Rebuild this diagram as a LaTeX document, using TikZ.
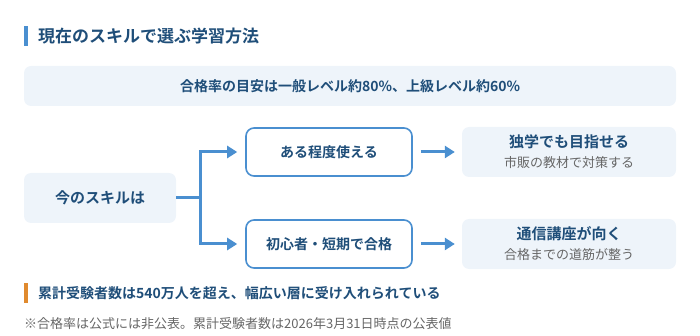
\documentclass[tikz,border=0pt]{standalone}
\usepackage{fontspec}
\setmainfont{Noto Sans CJK JP}[BoldFont={Noto Sans CJK JP Bold}]
\usetikzlibrary{arrows.meta}
\definecolor{dkblue}{HTML}{1F4E79}
\definecolor{lnblue}{HTML}{4A8FD0}
\definecolor{lightfill}{HTML}{EEF4FA}
\definecolor{orangebar}{HTML}{E08A2E}
\definecolor{graytext}{HTML}{666666}
\tikzset{
  softbox/.style={fill=lightfill, draw=none, rounded corners=7pt, inner sep=0pt},
  outlinebox/.style={fill=white, draw=lnblue, line width=1.6pt, rounded corners=8pt, inner sep=0pt,
     minimum width=166pt, minimum height=48pt, font=\fontsize{14}{16}\selectfont\bfseries, text=dkblue},
  conn/.style={draw=lnblue, line width=3pt},
  arr/.style={draw=lnblue, line width=3pt, -{Triangle[length=10pt,width=12pt]}},
  headtxt/.style={font=\fontsize{15}{17}\selectfont\bfseries, text=dkblue, inner sep=0pt},
  subtxt/.style={font=\fontsize{13}{15}\selectfont, text=graytext, inner sep=0pt},
}
\begin{document}
\begin{tikzpicture}[x=1pt,y=-1pt]
\useasboundingbox (0,0) rectangle (700,336);
% title
\fill[lnblue] (24,26) rectangle (27.5,46);
\node[anchor=west, inner sep=0pt, font=\fontsize{17}{19}\selectfont\bfseries, text=dkblue] (title) at (38,36) {現在のスキルで選ぶ学習方法};
% top box
\node[softbox, minimum width=652pt, minimum height=40pt, font=\fontsize{14}{16}\selectfont\bfseries, text=dkblue] (top) at (350,86) {合格率の目安は一般レベル約80\%、上級レベル約60\%};
% left box
\node[softbox, minimum width=152pt, minimum height=50pt, font=\fontsize{15}{17}\selectfont\bfseries, text=dkblue] (skill) at (100,198) {今のスキルは};
% middle boxes
\node[outlinebox] (m1) at (329,152) {ある程度使える};
\node[outlinebox] (m2) at (329,244) {初心者・短期で合格};
% right boxes
\node[softbox, minimum width=214pt, minimum height=50pt] (r1) at (569,152) {};
\node[softbox, minimum width=214pt, minimum height=50pt] (r2) at (569,244) {};
\node[headtxt] (r1h) at (569,142) {独学でも目指せる};
\node[subtxt] (r1s) at (569,163) {市販の教材で対策する};
\node[headtxt] (r2h) at (569,234) {通信講座が向く};
\node[subtxt] (r2s) at (569,255) {合格までの道筋が整う};
% connectors
\coordinate (j) at (200,198);
\draw[conn] (skill.east) -- (j);
\draw[arr, shorten >=8pt] (j) |- (m1.west);
\draw[arr, shorten >=8pt] (j) |- (m2.west);
\draw[arr, shorten <=8pt, shorten >=7pt] (m1.east) -- (r1.west);
\draw[arr, shorten <=8pt, shorten >=7pt] (m2.east) -- (r2.west);
% bottom
\fill[orangebar] (24,283) rectangle (27.5,303);
\node[anchor=west, inner sep=0pt, font=\fontsize{14}{16}\selectfont\bfseries, text=dkblue] (note) at (38,293) {累計受験者数は540万人を超え、幅広い層に受け入れられている};
\node[anchor=west, inner sep=0pt, font=\fontsize{13}{15}\selectfont, text=graytext] (foot) at (24,324) {※合格率は公式には非公表。累計受験者数は2026年3月31日時点の公表値};
\end{tikzpicture}
\end{document}
